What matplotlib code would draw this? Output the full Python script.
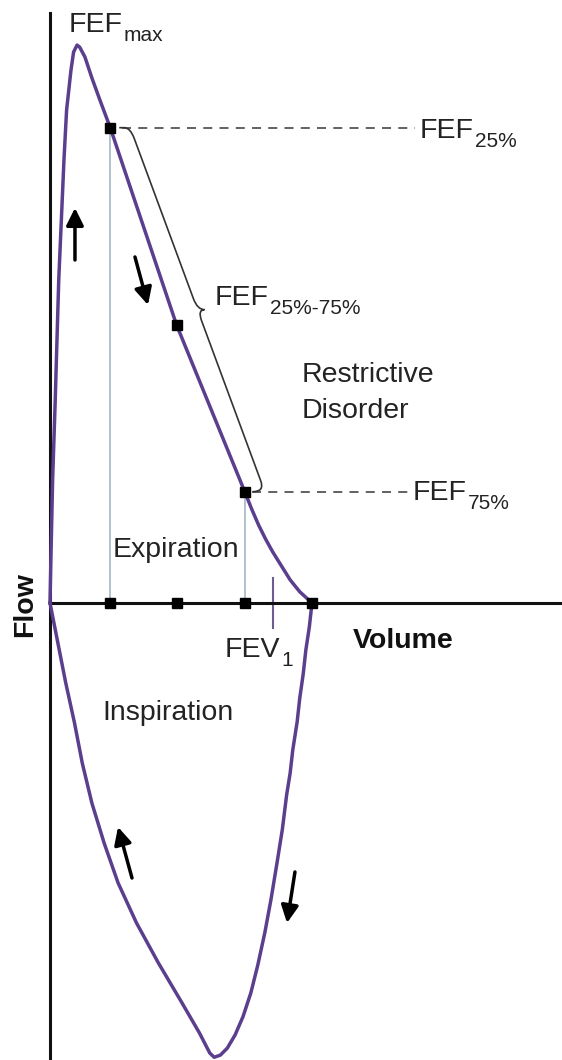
import numpy as np
import matplotlib
matplotlib.use("Agg")
import matplotlib.pyplot as plt
from matplotlib.path import Path
from matplotlib.patches import PathPatch

plt.rcParams['font.family'] = ['Liberation Sans', 'DejaVu Sans']

# expiratory limb (volume in L, flow in L/s)
exp_vol = [0.00, 0.01, 0.03, 0.06, 0.08, 0.10, 0.13, 0.16, 0.19, 0.24, 0.27, 0.31,
           0.34, 0.40, 0.48, 0.57, 0.69, 1.45, 2.23, 2.31, 2.39, 2.47, 2.55, 2.65,
           2.75, 2.86, 3.00]
exp_flow = [0.00, 0.61, 1.76, 2.90, 3.76, 4.61, 5.47, 6.33, 7.04, 7.61, 7.87, 7.97,
            7.94, 7.80, 7.50, 7.19, 6.79, 3.97, 1.59, 1.34, 1.11, 0.91, 0.73, 0.53,
            0.33, 0.16, 0.00]

# inspiratory limb
insp_vol = [0.00, 0.09, 0.18, 0.28, 0.37, 0.48, 0.62, 0.78, 0.99, 1.24, 1.51, 1.71,
            1.83, 1.88, 1.95, 2.03, 2.12, 2.21, 2.30, 2.38, 2.46, 2.53, 2.60, 2.66,
            2.71, 2.75, 2.78, 2.83, 2.86, 2.90, 2.93, 2.97, 3.00]
insp_flow = [0.00, -0.57, -1.14, -1.71, -2.29, -2.86, -3.43, -4.00, -4.57, -5.14,
             -5.71, -6.14, -6.43, -6.49, -6.46, -6.36, -6.17, -5.91, -5.57, -5.17,
             -4.71, -4.24, -3.71, -3.24, -2.74, -2.43, -2.10, -1.70, -1.36, -1.01,
             -0.67, -0.34, 0.00]

# FEF 25 / 50 / 75 % points and FVC
fef_vol = [0.69, 1.45, 2.23]
fef_flow = [6.79, 3.97, 1.59]
fvc = 3.00
fev1 = 2.55

PURPLE = '#5b3e8d'
TXT = '#232323'
FS = 20.5
SUB = 15

fig = plt.figure(figsize=(5.62, 10.60), dpi=100)
ax = fig.add_axes([0, 0, 1, 1])
ax.set_xlim(-0.5725, 5.863)
ax.set_ylim(-6.529, 8.614)

for s in ['top', 'right']:
    ax.spines[s].set_visible(False)
ax.spines['left'].set_position(('data', 0))
ax.spines['bottom'].set_position(('data', 0))
ax.spines['left'].set_bounds(-6.529, 8.43)
ax.spines['bottom'].set_bounds(0, 5.863)
for s in ['left', 'bottom']:
    ax.spines[s].set_linewidth(2.2)
    ax.spines[s].set_color('#111111')
    ax.spines[s].set_zorder(3)
ax.set_xticks([])
ax.set_yticks([])
ax.patch.set_alpha(0)

# guide lines
ax.vlines([fef_vol[0], fef_vol[2]], 0, [fef_flow[0], fef_flow[2]],
          color='#a3b6c6', lw=1.2, zorder=1)
ax.plot([0.824, 4.18], [fef_flow[0]] * 2, color='#555555', lw=1.3, dashes=(5, 4), zorder=1)
ax.plot([2.313, 4.10], [fef_flow[2]] * 2, color='#555555', lw=1.3, dashes=(5, 4), zorder=1)

# flow-volume loop
ax.plot(exp_vol, exp_flow, color=PURPLE, lw=2.5, zorder=4, solid_joinstyle='round')
ax.plot(insp_vol, insp_flow, color=PURPLE, lw=2.5, zorder=4, solid_joinstyle='round')

# FEV1 tick
ax.plot([fev1, fev1], [0.357, -0.357], color='#6e5b92', lw=1.5, zorder=2)

# markers
ax.plot(fef_vol, fef_flow, 's', color='black', ms=6.5, zorder=6)
ax.plot(fef_vol + [fvc], [0] * 4, 's', color='black', ms=6.5, zorder=6)


# brace between FEF25 and FEF75
def brace(p0, p1, h=20, tip=7):
    T = ax.transData
    a = np.array(T.transform(p0))
    b = np.array(T.transform(p1))
    d = b - a

    def L(t):
        return a + t * d + np.array([h, 0])
    verts = [a + [9, 0], a + [h - 6, 0], L(0), L(0.03), L(0.47), L(0.5),
             L(0.5) + [tip, 0], L(0.5), L(0.53), L(0.97), L(1), b + [8, 0]]
    codes = [Path.MOVETO, Path.LINETO, Path.CURVE3, Path.CURVE3, Path.LINETO,
             Path.CURVE3, Path.CURVE3, Path.CURVE3, Path.CURVE3, Path.LINETO,
             Path.CURVE3, Path.CURVE3]
    verts = T.inverted().transform(np.array(verts))
    ax.add_patch(PathPatch(Path(verts, codes), fill=False, ec='#333333', lw=1.2, zorder=3))


brace((fef_vol[0], fef_flow[0]), (fef_vol[2], fef_flow[2]))


def label(x, y, main, sub=None, **kw):
    t = ax.text(x, y, main, fontsize=FS, color=TXT, ha='left', va='baseline', **kw)
    if sub:
        ax.annotate(sub, xy=(1, 0), xycoords=t, xytext=(0.5, -2),
                    textcoords='offset points', fontsize=SUB, color=TXT,
                    ha='left', va='baseline')
    return t


label(0.218, 8.157, 'FEF', 'max')
label(4.237, 6.643, 'FEF', '25%')
label(1.889, 4.257, 'FEF', '25%-75%')
label(4.157, 1.471, 'FEF', '75%')
label(2.886, 3.157, 'Restrictive')
label(2.886, 2.643, 'Disorder')
label(0.721, 0.657, 'Expiration')
label(0.595, -1.671, 'Inspiration')
label(2.004, -0.771, 'FEV', '1')
ax.text(3.469, -0.643, 'Volume', fontsize=FS, fontweight='bold', color='#111111',
        ha='left', va='baseline')
ax.text(-0.286, -0.029, 'Flow', fontsize=FS, fontweight='bold', color='#111111',
        ha='center', va='center', rotation=90)

# direction arrows
arrows = [((0.286, 4.900), (0.286, 5.643)),
          ((0.973, 4.943), (1.122, 4.257)),
          ((0.939, -3.929), (0.779, -3.200)),
          ((2.805, -3.843), (2.714, -4.571))]
for tail, head in arrows:
    ax.annotate('', xy=head, xytext=tail,
                arrowprops=dict(arrowstyle='-|>', lw=2.5, color='black',
                                mutation_scale=26, shrinkA=0, shrinkB=0))

fig.savefig('out.png', dpi=100)
